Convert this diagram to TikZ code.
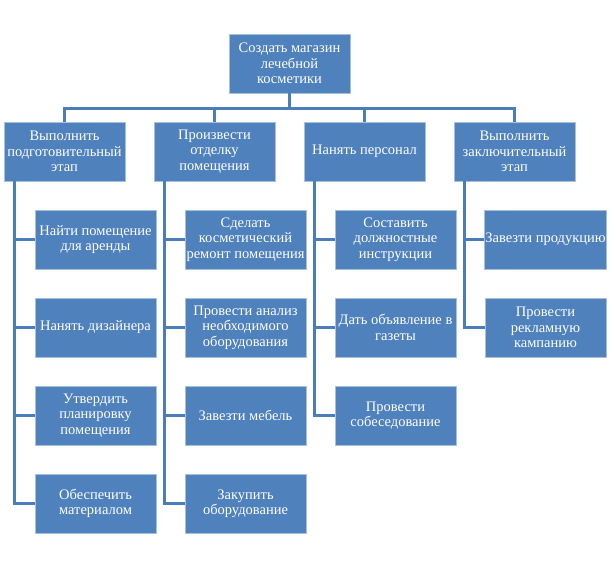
\documentclass[tikz,border=0pt]{standalone}
\usepackage{fontspec}
\setmainfont{Liberation Serif}
\definecolor{boxblue}{HTML}{4F81BD}
\definecolor{rimblue}{HTML}{A7C0DE}
\definecolor{lineblue}{HTML}{4A7EBB}
\usetikzlibrary{calc}

\begin{document}
\begin{tikzpicture}
  [x=1pt, y=-1pt,
   box/.style={draw=rimblue, line width=0.8pt, fill=boxblue, text=white,
     minimum width=121pt, minimum height=59pt, inner sep=1pt, align=center,
     font=\fontsize{14.5}{15.4}\selectfont},
   link/.style={draw=lineblue, line width=2.6pt}]

  \useasboundingbox (0,0) rectangle (612,567);

  %Top goal and the four stages
  \node[box] (top) at (289.5,63.5) {Создать магазин\\лечебной\\косметики};
  \node[box] (p1) at (64.5,151.5) {Выполнить\\подготовительный\\этап};
  \node[box] (p2) at (214.5,151.5) {Произвести\\отделку\\помещения};
  \node[box] (p3) at (364.5,151.5) {Нанять персонал};
  \node[box] (p4) at (514.5,151.5) {Выполнить\\заключительный\\этап};

  %Draw the tasks of every stage
  \foreach \t [count=\y] in {{Найти помещение\\для аренды},{Нанять дизайнера},
      {Утвердить\\планировку\\помещения},{Обеспечить\\материалом}}
    \node[box] (c1_\y) at (95.5,239.5+88*\y-88) {\t};
  \foreach \t [count=\y] in {{Сделать\\косметический\\ремонт помещения},
      {Провести анализ\\необходимого\\оборудования},{Завезти мебель},
      {Закупить\\оборудование}}
    \node[box] (c2_\y) at (245.5,239.5+88*\y-88) {\t};
  \foreach \t [count=\y] in {{Составить\\должностные\\инструкции},
      {Дать объявление в\\газеты},{Провести\\собеседование}}
    \node[box] (c3_\y) at (395.5,239.5+88*\y-88) {\t};
  \foreach \t [count=\y] in {{Завезти продукцию},{Провести\\рекламную\\кампанию}}
    \node[box] (c4_\y) at (545.5,239.5+88*\y-88) {\t};

  %Connectors
  \coordinate (bus) at ($(top.south)+(0,15)$);
  \draw[link] (top.south) -- (bus);
  \foreach \x in {1,...,4} \draw[link] (p\x.north) |- (bus);
  \foreach \y in {1,...,4} \draw[link] ([xshift=11pt]p1.south west) |- (c1_\y.west);
  \foreach \y in {1,...,4} \draw[link] ([xshift=11pt]p2.south west) |- (c2_\y.west);
  \foreach \y in {1,...,3} \draw[link] ([xshift=11pt]p3.south west) |- (c3_\y.west);
  \foreach \y in {1,2} \draw[link] ([xshift=11pt]p4.south west) |- (c4_\y.west);
\end{tikzpicture}
\end{document}
